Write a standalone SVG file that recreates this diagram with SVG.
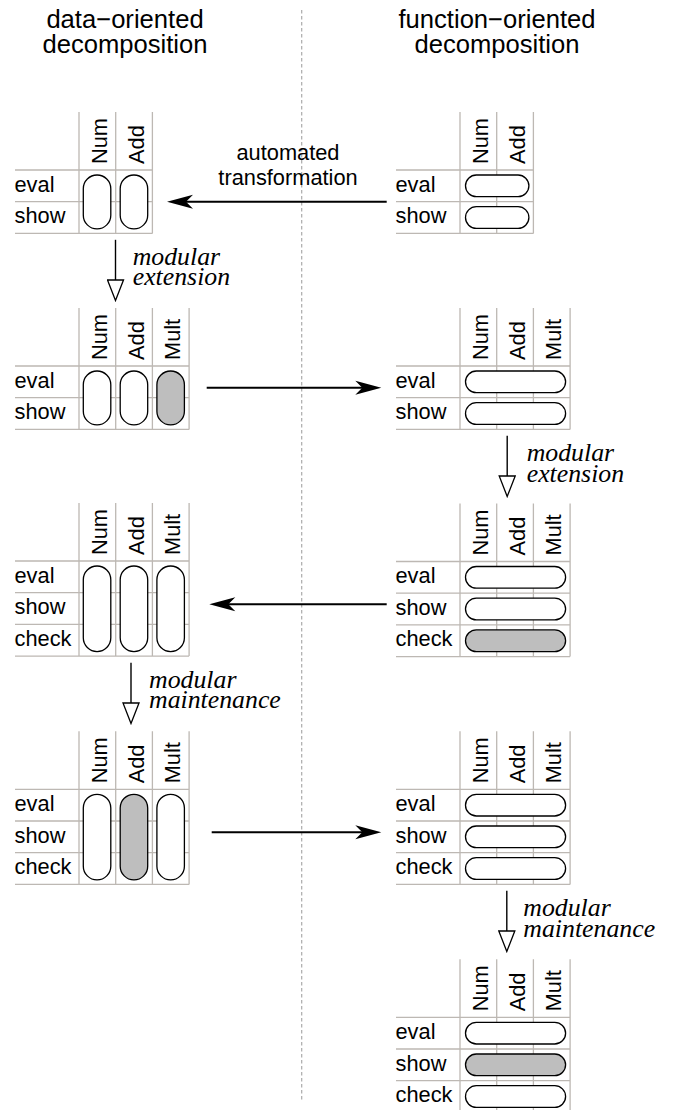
<svg xmlns="http://www.w3.org/2000/svg" width="673" height="1110" viewBox="0 0 673 1110">
<style>
text{font-family:"Liberation Sans",Arial,sans-serif;fill:#000}
.title{font-size:25.6px;text-anchor:middle}
.lab{font-size:21.8px}
.hdr{font-size:21.8px}
.it{font-family:"Liberation Serif","Times New Roman",serif;font-style:italic;font-size:25.8px}
.grid{stroke:#bdb8b3;stroke-width:1.3;fill:none}
.pill{stroke:#000;stroke-width:1.3;fill:#fff}
.pill.g{fill:#bebebe}
.conn{stroke:#000;stroke-width:2;fill:none}
.down{stroke:#000;stroke-width:1.4;fill:none}
.div{stroke:#aaa;stroke-width:1.2;stroke-dasharray:3.5 2.5;fill:none}
</style>
<defs>
<marker id="barb" markerUnits="userSpaceOnUse" viewBox="-9 -8 30 16" markerWidth="30" markerHeight="16" refX="2" refY="0" orient="auto">
<path d="M19,0 L-7,-7 L0,0 L-7,7 Z" fill="#000"/>
</marker>
<marker id="tri" markerUnits="userSpaceOnUse" viewBox="-1 -9 23 18" markerWidth="23" markerHeight="18" refX="0" refY="0" orient="auto">
<path d="M0,-8 L20.5,0 L0,8 Z" fill="#fff" stroke="#000" stroke-width="1.3"/>
</marker>
</defs>
<rect width="673" height="1110" fill="#fff"/>

<text class="title" x="125" y="27.5">data−oriented</text>
<text class="title" x="125" y="53.3">decomposition</text>
<text class="title" x="497" y="27.5">function−oriented</text>
<text class="title" x="497" y="53.3">decomposition</text>

<line class="div" x1="301.7" y1="10" x2="301.7" y2="1100"/>

<!-- T1 -->
<g id="t1">
<path class="grid" d="M79,112V233.4M115.7,112V233.4M152.4,112V233.4M15,170H152.4M15,201.7H152.4M15,233.4H152.4"/>
<text class="hdr" transform="translate(107,164) rotate(-90)">Num</text>
<text class="hdr" transform="translate(143.7,164) rotate(-90)">Add</text>
<text class="lab" x="14.5" y="191.5">eval</text>
<text class="lab" x="14.5" y="223.2">show</text>
<rect class="pill" x="83.3" y="175" width="27.5" height="53.9" rx="13.75"/>
<rect class="pill" x="120.2" y="175" width="27.5" height="53.9" rx="13.75"/>
</g>

<!-- T2 -->
<g id="t2">
<path class="grid" d="M460,112V233.4M496.7,112V233.4M533.4,112V233.4M396,170H533.4M396,201.7H533.4M396,233.4H533.4"/>
<text class="hdr" transform="translate(488,164) rotate(-90)">Num</text>
<text class="hdr" transform="translate(524.7,164) rotate(-90)">Add</text>
<text class="lab" x="395.5" y="191.5">eval</text>
<text class="lab" x="395.5" y="223.2">show</text>
<rect class="pill" x="465.5" y="175" width="63.4" height="21.7" rx="10.85"/>
<rect class="pill" x="465.5" y="206.7" width="63.4" height="21.7" rx="10.85"/>
</g>

<!-- T3 -->
<g id="t3">
<path class="grid" d="M79,308V429.4M115.7,308V429.4M152.4,308V429.4M189.1,308V429.4M15,366H189.1M15,397.7H189.1M15,429.4H189.1"/>
<text class="hdr" transform="translate(107,360) rotate(-90)">Num</text>
<text class="hdr" transform="translate(143.7,360) rotate(-90)">Add</text>
<text class="hdr" transform="translate(180.4,360) rotate(-90)">Mult</text>
<text class="lab" x="14.5" y="387.5">eval</text>
<text class="lab" x="14.5" y="419.2">show</text>
<rect class="pill" x="83.3" y="371" width="27.5" height="53.9" rx="13.75"/>
<rect class="pill" x="120.2" y="371" width="27.5" height="53.9" rx="13.75"/>
<rect class="pill g" x="156.9" y="371" width="27.5" height="53.9" rx="13.75"/>
</g>

<!-- T4 -->
<g id="t4">
<path class="grid" d="M460,308V429.4M496.7,308V429.4M533.4,308V429.4M570.1,308V429.4M396,366H570.1M396,397.7H570.1M396,429.4H570.1"/>
<text class="hdr" transform="translate(488,360) rotate(-90)">Num</text>
<text class="hdr" transform="translate(524.7,360) rotate(-90)">Add</text>
<text class="hdr" transform="translate(561.4,360) rotate(-90)">Mult</text>
<text class="lab" x="395.5" y="387.5">eval</text>
<text class="lab" x="395.5" y="419.2">show</text>
<rect class="pill" x="465.5" y="371" width="100.1" height="21.7" rx="10.85"/>
<rect class="pill" x="465.5" y="402.7" width="100.1" height="21.7" rx="10.85"/>
</g>

<!-- T5 -->
<g id="t5">
<path class="grid" d="M79,503V656.1M115.7,503V656.1M152.4,503V656.1M189.1,503V656.1M15,561H189.1M15,592.7H189.1M15,624.4H189.1M15,656.1H189.1"/>
<text class="hdr" transform="translate(107,555) rotate(-90)">Num</text>
<text class="hdr" transform="translate(143.7,555) rotate(-90)">Add</text>
<text class="hdr" transform="translate(180.4,555) rotate(-90)">Mult</text>
<text class="lab" x="14.5" y="582.5">eval</text>
<text class="lab" x="14.5" y="614.2">show</text>
<text class="lab" x="14.5" y="645.9">check</text>
<rect class="pill" x="83.3" y="566" width="27.5" height="85.6" rx="13.75"/>
<rect class="pill" x="120.2" y="566" width="27.5" height="85.6" rx="13.75"/>
<rect class="pill" x="156.9" y="566" width="27.5" height="85.6" rx="13.75"/>
</g>

<!-- T6 -->
<g id="t6">
<path class="grid" d="M460,503.5V656.6M496.7,503.5V656.6M533.4,503.5V656.6M570.1,503.5V656.6M396,561.5H570.1M396,593.2H570.1M396,624.9H570.1M396,656.6H570.1"/>
<text class="hdr" transform="translate(488,555.5) rotate(-90)">Num</text>
<text class="hdr" transform="translate(524.7,555.5) rotate(-90)">Add</text>
<text class="hdr" transform="translate(561.4,555.5) rotate(-90)">Mult</text>
<text class="lab" x="395.5" y="583">eval</text>
<text class="lab" x="395.5" y="614.7">show</text>
<text class="lab" x="395.5" y="646.4">check</text>
<rect class="pill" x="465.5" y="566.5" width="100.1" height="21.7" rx="10.85"/>
<rect class="pill" x="465.5" y="598.2" width="100.1" height="21.7" rx="10.85"/>
<rect class="pill g" x="465.5" y="629.9" width="100.1" height="21.7" rx="10.85"/>
</g>

<!-- T7 -->
<g id="t7">
<path class="grid" d="M79,731.3V884.4M115.7,731.3V884.4M152.4,731.3V884.4M189.1,731.3V884.4M15,789.3H189.1M15,821H189.1M15,852.7H189.1M15,884.4H189.1"/>
<text class="hdr" transform="translate(107,783.3) rotate(-90)">Num</text>
<text class="hdr" transform="translate(143.7,783.3) rotate(-90)">Add</text>
<text class="hdr" transform="translate(180.4,783.3) rotate(-90)">Mult</text>
<text class="lab" x="14.5" y="810.8">eval</text>
<text class="lab" x="14.5" y="842.5">show</text>
<text class="lab" x="14.5" y="874.2">check</text>
<rect class="pill" x="83.3" y="794.3" width="27.5" height="85.6" rx="13.75"/>
<rect class="pill g" x="120.2" y="794.3" width="27.5" height="85.6" rx="13.75"/>
<rect class="pill" x="156.9" y="794.3" width="27.5" height="85.6" rx="13.75"/>
</g>

<!-- T8 -->
<g id="t8">
<path class="grid" d="M460,731.3V884.4M496.7,731.3V884.4M533.4,731.3V884.4M570.1,731.3V884.4M396,789.3H570.1M396,821H570.1M396,852.7H570.1M396,884.4H570.1"/>
<text class="hdr" transform="translate(488,783.3) rotate(-90)">Num</text>
<text class="hdr" transform="translate(524.7,783.3) rotate(-90)">Add</text>
<text class="hdr" transform="translate(561.4,783.3) rotate(-90)">Mult</text>
<text class="lab" x="395.5" y="810.8">eval</text>
<text class="lab" x="395.5" y="842.5">show</text>
<text class="lab" x="395.5" y="874.2">check</text>
<rect class="pill" x="465.5" y="794.3" width="100.1" height="21.7" rx="10.85"/>
<rect class="pill" x="465.5" y="826" width="100.1" height="21.7" rx="10.85"/>
<rect class="pill" x="465.5" y="857.7" width="100.1" height="21.7" rx="10.85"/>
</g>

<!-- T9 -->
<g id="t9">
<path class="grid" d="M460,959.3V1112.4M496.7,959.3V1112.4M533.4,959.3V1112.4M570.1,959.3V1112.4M396,1017.3H570.1M396,1049H570.1M396,1080.7H570.1M396,1112.4H570.1"/>
<text class="hdr" transform="translate(488,1011.3) rotate(-90)">Num</text>
<text class="hdr" transform="translate(524.7,1011.3) rotate(-90)">Add</text>
<text class="hdr" transform="translate(561.4,1011.3) rotate(-90)">Mult</text>
<text class="lab" x="395.5" y="1038.8">eval</text>
<text class="lab" x="395.5" y="1070.5">show</text>
<text class="lab" x="395.5" y="1102.2">check</text>
<rect class="pill" x="465.5" y="1022.3" width="100.1" height="21.7" rx="10.85"/>
<rect class="pill g" x="465.5" y="1054" width="100.1" height="21.7" rx="10.85"/>
<rect class="pill" x="465.5" y="1085.7" width="100.1" height="21.7" rx="10.85"/>
</g>

<g id="connectors">
<line class="conn" x1="386.7" y1="201.7" x2="184" y2="201.7" marker-end="url(#barb)"/>
<line class="conn" x1="206.7" y1="387.7" x2="364.3" y2="387.7" marker-end="url(#barb)"/>
<line class="conn" x1="386.7" y1="604.3" x2="226.3" y2="604.3" marker-end="url(#barb)"/>
<line class="conn" x1="211.7" y1="832.3" x2="364.3" y2="832.3" marker-end="url(#barb)"/>
<line class="down" x1="115.5" y1="239.8" x2="115.5" y2="280" marker-end="url(#tri)"/>
<line class="down" x1="507.2" y1="435.8" x2="507.2" y2="476" marker-end="url(#tri)"/>
<line class="down" x1="131" y1="662.8" x2="131" y2="703" marker-end="url(#tri)"/>
<line class="down" x1="506.8" y1="890.8" x2="506.8" y2="931" marker-end="url(#tri)"/>
<text class="lab" x="288" y="160" text-anchor="middle">automated</text>
<text class="lab" x="288" y="185" text-anchor="middle">transformation</text>
<text class="it" x="132.7" y="265">modular</text>
<text class="it" x="132.7" y="285.3">extension</text>
<text class="it" x="526.7" y="461">modular</text>
<text class="it" x="526.7" y="481.5">extension</text>
<text class="it" x="149" y="687.5">modular</text>
<text class="it" x="149" y="708">maintenance</text>
<text class="it" x="523.3" y="916">modular</text>
<text class="it" x="523.3" y="936.5">maintenance</text>
</g>
</svg>
